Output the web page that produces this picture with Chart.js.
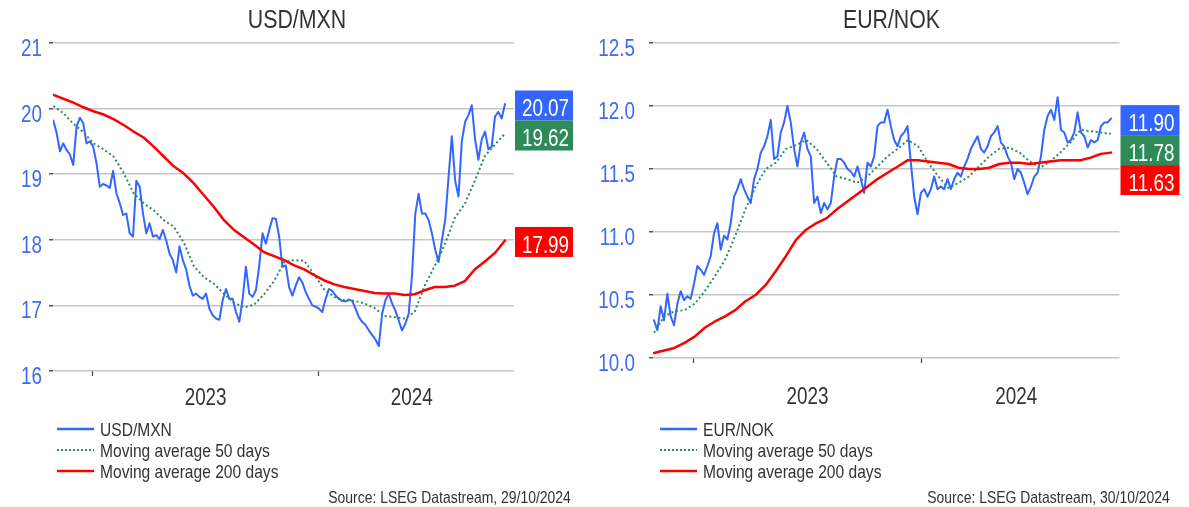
<!DOCTYPE html>
<html><head><meta charset="utf-8">
<script src="https://cdn.jsdelivr.net/npm/chart.js@4.4.1/dist/chart.umd.min.js"></script>
<style>
html,body{margin:0;padding:0;background:#fff;}
#wrap{position:relative;width:1189px;height:507px;overflow:hidden;font-family:'Liberation Sans',Arial,sans-serif;color:#333;}
.panel{position:absolute;top:0;height:507px;}
.panel canvas{position:absolute;left:0;top:0;}
.title{position:absolute;left:0;right:0;text-align:center;font-size:26px;line-height:26px;white-space:nowrap;transform:scaleX(0.82);transform-origin:50% 50%;}
.leg{position:absolute;font-size:19px;line-height:19px;white-space:nowrap;}
.leg svg{position:absolute;}
.leg span{position:absolute;transform:scaleX(0.82);transform-origin:0 50%;}
.src{position:absolute;font-size:17px;line-height:17px;white-space:nowrap;text-align:right;transform:scaleX(0.82);transform-origin:100% 50%;}
</style>
</head><body>
<div id="wrap">
  <div class="panel" id="p1" style="left:0;width:594px;"><canvas id="c1" width="594" height="507" style="width:594px;height:507px"></canvas></div>
  <div class="panel" id="p2" style="left:594px;width:595px;"><canvas id="c2" width="595" height="507" style="width:595px;height:507px"></canvas></div>
</div>
<script>
// ---------------- DATA ----------------
const seriesNames = ['Moving average 50 days', 'Moving average 200 days'];
const yearStarts = ['2023-01-01', '2024-01-01'];
const yearLabels = ['2023', '2024'];

// USD/MXN (29/10/2022 - 29/10/2024)
const mxnTitle = 'USD/MXN';
const mxnStart = '2022-10-29';
const mxnEnd = '2024-10-29';
const mxnSource = 'Source: LSEG Datastream, 29/10/2024';
const mxnYTicks = [16, 17, 18, 19, 20, 21];
const mxnSpot = [19.82,19.63,19.35,19.47,19.37,19.30,19.14,19.73,19.86,19.78,19.47,19.50,19.42,19.17,18.81,18.85,18.83,18.79,19.05,18.71,
  18.56,18.38,18.40,18.10,18.05,18.90,18.81,18.40,18.10,18.25,18.05,18.07,18.01,18.15,17.99,17.79,17.69,17.50,17.90,17.69,
  17.55,17.30,17.15,17.18,17.13,17.10,17.18,16.95,16.85,16.80,16.78,17.08,17.25,17.10,17.10,16.90,16.75,17.10,17.59,17.18,
  17.13,17.23,17.60,18.10,17.94,18.15,18.33,18.32,18.05,17.59,17.61,17.28,17.15,17.30,17.43,17.35,17.20,17.10,17.00,16.98,
  16.95,16.90,17.10,17.25,17.22,17.15,17.10,17.07,17.06,17.09,17.07,16.95,16.82,16.75,16.70,16.62,16.55,16.48,16.38,16.87,
  17.08,17.18,17.03,16.92,16.77,16.62,16.72,16.87,17.45,18.40,18.70,18.40,18.40,18.30,18.10,17.85,17.66,17.99,18.30,18.95,
  19.58,18.90,18.66,19.50,19.80,19.90,20.05,19.53,19.22,19.53,19.65,19.38,19.42,19.88,19.95,19.85,20.07];
const mxnMA50 = [20.04,19.93,19.77,19.64,19.47,19.38,19.27,19.02,18.71,18.56,18.45,18.30,18.20,17.96,17.60,17.43,17.33,17.18,17.04,16.97,
  17.01,17.17,17.37,17.66,17.69,17.68,17.47,17.24,17.13,17.08,17.07,17.03,16.96,16.84,16.82,16.80,16.90,17.30,17.60,17.93,
  18.33,18.55,18.90,19.28,19.45,19.62];
const mxnMA200 = [20.21,20.15,20.09,20.02,19.96,19.91,19.84,19.75,19.65,19.56,19.42,19.27,19.12,19.01,18.86,18.68,18.50,18.30,18.15,18.04,
  17.93,17.81,17.75,17.69,17.61,17.55,17.46,17.38,17.32,17.28,17.25,17.22,17.19,17.18,17.18,17.16,17.17,17.23,17.28,17.28,
  17.30,17.37,17.55,17.67,17.80,17.99];

// EUR/NOK (30/10/2022 - 30/10/2024)
const nokTitle = 'EUR/NOK';
const nokStart = '2022-10-30';
const nokEnd = '2024-10-30';
const nokSource = 'Source: LSEG Datastream, 30/10/2024';
const nokYTicks = [10.0, 10.5, 11.0, 11.5, 12.0, 12.5];
const nokSpot = [10.30,10.22,10.41,10.30,10.51,10.33,10.26,10.43,10.53,10.46,10.49,10.47,10.59,10.73,10.70,10.66,10.73,10.81,10.99,11.07,
  10.86,10.97,10.94,11.07,11.28,11.34,11.42,11.34,11.28,11.23,11.42,11.50,11.63,11.68,11.76,11.89,11.58,11.60,11.79,11.87,
  12.00,11.87,11.66,11.52,11.71,11.79,11.66,11.60,11.23,11.28,11.15,11.23,11.18,11.23,11.44,11.58,11.58,11.55,11.50,11.48,
  11.44,11.52,11.42,11.31,11.55,11.52,11.60,11.84,11.87,11.87,11.97,11.84,11.73,11.68,11.76,11.79,11.84,11.55,11.28,11.14,
  11.31,11.34,11.28,11.34,11.44,11.34,11.36,11.34,11.42,11.34,11.42,11.47,11.44,11.52,11.58,11.66,11.71,11.76,11.66,11.63,
  11.68,11.76,11.79,11.84,11.71,11.68,11.60,11.55,11.42,11.50,11.47,11.39,11.30,11.36,11.44,11.47,11.60,11.81,11.92,11.97,
  11.89,12.07,11.81,11.79,11.71,11.73,11.79,11.95,11.79,11.76,11.67,11.73,11.71,11.73,11.84,11.87,11.87,11.90];
const nokMA50 = [10.20,10.33,10.37,10.38,10.43,10.53,10.65,10.78,10.97,11.18,11.36,11.50,11.55,11.66,11.69,11.73,11.66,11.55,11.44,11.42,
  11.39,11.44,11.52,11.60,11.66,11.73,11.68,11.55,11.44,11.35,11.39,11.44,11.52,11.60,11.66,11.67,11.63,11.56,11.51,11.56,
  11.63,11.71,11.81,11.80,11.79,11.78];
const nokMA200 = [10.04,10.06,10.08,10.12,10.17,10.24,10.29,10.33,10.38,10.45,10.50,10.58,10.69,10.81,10.94,11.02,11.07,11.11,11.18,11.24,
  11.30,11.36,11.42,11.47,11.52,11.57,11.57,11.56,11.55,11.54,11.51,11.50,11.50,11.51,11.54,11.55,11.55,11.54,11.55,11.56,
  11.57,11.57,11.57,11.59,11.62,11.63];

// ---------------- STYLE ----------------
const FONT = "'Liberation Sans',Arial,sans-serif";
const NARROW = 0.82;
const C_BLUE = '#3366ff', C_GREEN = '#2e8b57', C_RED = '#ff0000';
const TICK_BLUE = '#3d6cf4';

const DAY = 864e5;
function dayOffset(start, d) { return (Date.parse(d) - Date.parse(start)) / DAY; }
function toPoints(values, start, end) {
  const span = dayOffset(start, end);
  return values.map((v, i) => ({ x: i * span / (values.length - 1), y: v }));
}
function drawNarrow(ctx, text, px, py) {
  ctx.save(); ctx.translate(px, py); ctx.scale(NARROW, 1); ctx.fillText(text, 0, 0); ctx.restore();
}

const boxPlugin = {
  id: 'lastBoxes',
  afterDraw(chart) {
    const { ctx, chartArea } = chart;
    const y = chart.scales.y;
    const o = chart.options.plugins.lastBoxes;
    const items = chart.data.datasets.map(ds => {
      const last = ds.data[ds.data.length - 1].y;
      return { v: last, c: ds.borderColor, py: y.getPixelForValue(last) };
    }).sort((a, b) => a.py - b.py);
    let prevBottom = -1e9;
    const h = o.h, w = o.w;
    ctx.save();
    items.forEach(it => {
      const c = Math.max(it.py + 1.5, prevBottom + h / 2);
      const x0 = chartArea.right + o.gap;
      ctx.fillStyle = it.c;
      ctx.fillRect(x0, c - h / 2, w, h);
      ctx.fillStyle = '#ffffff';
      ctx.font = '23px ' + FONT;
      ctx.textAlign = 'center';
      ctx.textBaseline = 'alphabetic';
      drawNarrow(ctx, it.v.toFixed(2), x0 + w / 2 + 1.5, c + 10.8);
      prevBottom = c + h / 2;
    });
    ctx.restore();
  }
};

const labelPlugin = {
  id: 'narrowLabels',
  afterDraw(chart) {
    const o = chart.options.plugins.narrowLabels;
    const ctx = chart.ctx;
    const xs = chart.scales.x, ys = chart.scales.y;
    ctx.save();
    ctx.font = '23px ' + FONT;
    ctx.textBaseline = 'alphabetic';
    ctx.fillStyle = TICK_BLUE;
    ctx.textAlign = 'right';
    o.yTicks.forEach(v => drawNarrow(ctx, v.toFixed(o.yDec), o.yLabelRight, ys.getPixelForValue(v) + 13));
    ctx.fillStyle = '#333333';
    ctx.textAlign = 'center';
    o.xLabels.forEach(l => drawNarrow(ctx, l.text, xs.getPixelForValue(l.value), o.xBaseline));
    ctx.restore();
  }
};

function buildChart(cfg) {
  const span = dayOffset(cfg.start, cfg.end);
  const b = yearStarts.map(d => dayOffset(cfg.start, d));
  const xLabels = [{ value: (b[0] + b[1]) / 2, text: yearLabels[0] }, { value: (b[1] + span) / 2, text: yearLabels[1] }];
  const datasets = [
    { label: cfg.title, data: toPoints(cfg.spot, cfg.start, cfg.end), borderColor: C_BLUE, borderWidth: 2, order: 3, borderCapStyle: 'round' },
    { label: seriesNames[0], data: toPoints(cfg.ma50, cfg.start, cfg.end), borderColor: C_GREEN, borderWidth: 2, borderDash: [2, 2.6], order: 2, borderCapStyle: 'butt' },
    { label: seriesNames[1], data: toPoints(cfg.ma200, cfg.start, cfg.end), borderColor: C_RED, borderWidth: 2.5, order: 1, borderCapStyle: 'round' }
  ];
  datasets.forEach(d => { d.pointRadius = 0; d.tension = 0; d.fill = false; d.borderJoinStyle = 'round'; });
  new Chart(document.getElementById(cfg.canvas), {
    type: 'line',
    data: { datasets },
    plugins: [boxPlugin, labelPlugin],
    options: {
      responsive: false, animation: false, maintainAspectRatio: false,
      layout: { padding: cfg.pad },
      plugins: { legend: { display: false }, tooltip: { enabled: false }, title: { display: false },
        lastBoxes: { gap: 1, w: cfg.boxW, h: 30 },
        narrowLabels: { yTicks: cfg.yTicks, yDec: cfg.yDec, yLabelRight: cfg.yLabelRight, xLabels, xBaseline: cfg.xBaseline } },
      scales: {
        x: {
          type: 'linear', min: cfg.xMin, max: cfg.xMax,
          afterFit: s => { s.height = 40; },
          afterBuildTicks: s => { s.ticks = b.map(v => ({ value: v })); },
          border: { display: false },
          grid: { drawOnChartArea: false, drawTicks: true, tickLength: 5, tickWidth: 1.2, tickColor: '#444' },
          ticks: { autoSkip: false, maxRotation: 0, minRotation: 0, color: 'rgba(0,0,0,0)', font: { size: 10 }, callback: () => '' }
        },
        y: {
          min: cfg.yTicks[0], max: cfg.yTicks[cfg.yTicks.length - 1],
          afterFit: s => { s.width = cfg.yWidth; },
          afterBuildTicks: s => { s.ticks = cfg.yTicks.map(v => ({ value: v })); },
          border: { display: false },
          grid: { color: '#c6c6c6', lineWidth: 1.5, drawTicks: true, tickLength: 4, tickWidth: 1.5, tickColor: '#555' },
          ticks: { color: 'rgba(0,0,0,0)', font: { size: 10 }, callback: () => '' }
        }
      }
    }
  });
  // HTML title, legend, source
  const p = document.getElementById(cfg.panel);
  const t = document.createElement('div');
  t.className = 'title'; t.textContent = cfg.title; t.style.top = '6px';
  p.appendChild(t);
  datasets.forEach((d, i) => {
    const row = document.createElement('div');
    row.className = 'leg';
    row.style.left = cfg.legX + 'px';
    row.style.top = (420 + i * 21) + 'px';
    const dash = d.borderDash ? 'stroke-dasharray="2,2"' : '';
    row.innerHTML = '<svg width="37" height="6" style="left:0;top:6px"><line x1="0" y1="3" x2="37" y2="3" stroke="' + d.borderColor + '" stroke-width="' + (d.borderDash ? 2 : 2.5) + '" ' + dash + '/></svg>' +
      '<span style="left:43px;top:0">' + d.label + '</span>';
    p.appendChild(row);
  });
  const s = document.createElement('div');
  s.className = 'src'; s.textContent = cfg.source;
  s.style.right = cfg.srcRight + 'px'; s.style.top = '489px';
  p.appendChild(s);
}

buildChart({ canvas: 'c1', panel: 'p1', title: mxnTitle, start: mxnStart, end: mxnEnd, source: mxnSource,
  spot: mxnSpot, ma50: mxnMA50, ma200: mxnMA200, yTicks: mxnYTicks, yDec: 0,
  xMin: -0.5, xMax: 745.6, pad: { left: 0, top: 43, right: 80, bottom: 96 }, yWidth: 53, yLabelRight: 42, xBaseline: 405,
  boxW: 58, legX: 57, srcRight: 23 });
buildChart({ canvas: 'c2', panel: 'p2', title: nokTitle, start: nokStart, end: nokEnd, source: nokSource,
  spot: nokSpot, ma50: nokMA50, ma200: nokMA200, yTicks: nokYTicks, yDec: 1,
  xMin: -1.6, xMax: 744.6, pad: { left: 0, top: 43, right: 69.5, bottom: 109 }, yWidth: 59, yLabelRight: 41, xBaseline: 404,
  boxW: 59, legX: 65.5, srcRight: 19 });
</script>
</body></html>
